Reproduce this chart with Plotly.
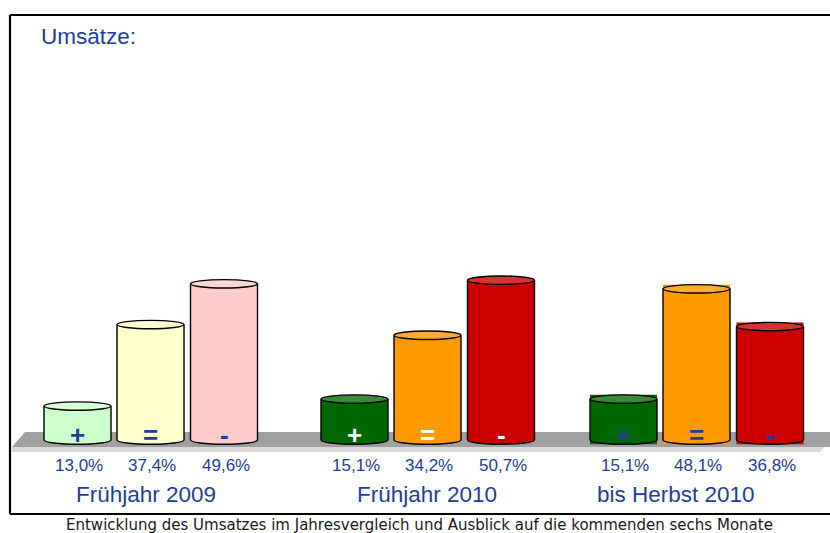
import plotly.graph_objects as go

# ---------------- data ----------------
groups = ["Frühjahr 2009", "Frühjahr 2010", "bis Herbst 2010"]
series = ["+", "=", "-"]
values_2009 = [13.0, 37.4, 49.6]
values_2010 = [15.1, 34.2, 50.7]
values_herbst = [15.1, 48.1, 36.8]
value_labels_2009 = ["13,0%", "37,4%", "49,6%"]
value_labels_2010 = ["15,1%", "34,2%", "50,7%"]
value_labels_herbst = ["15,1%", "48,1%", "36,8%"]
title_text = "Umsätze:"
caption_text = "Entwicklung des Umsatzes im Jahresvergleich und Ausblick auf die kommenden sechs Monate"

all_values = [values_2009, values_2010, values_herbst]
all_labels = [value_labels_2009, value_labels_2010, value_labels_herbst]

# ---------------- styling / layout ----------------
W, H = 830, 533
PX_PER_UNIT = 3.34
ZERO_PX = 449.5
y_range = [(ZERO_PX - H) / PX_PER_UNIT, ZERO_PX / PX_PER_UNIT]
floor_v = (ZERO_PX - 440) / PX_PER_UNIT
ry = 4.2 / PX_PER_UNIT
bar_w = 67
rx = bar_w / 2

group_centers = [150.5, 427.5, 696.5]
label_centers = [146, 427, 676]
offsets = [-73, 0, 73.5]

body_colors = [
    ["#CCFFCC", "#FFFFCC", "#FFCCCC"],
    ["#006600", "#FF9900", "#CC0000"],
    ["#006600", "#FF9900", "#CC0000"],
]
top_colors = [
    ["#D8FFD8", "#FFFFD6", "#FFD6D6"],
    ["#3A8A3A", "#FFAA33", "#D63333"],
    ["#3A8A3A", "#FFAA33", "#D63333"],
]
symbol_colors = ["#1F3D99", "white", "#1F3D99"]
square_back = [False, False, True]
BLUE = "#1F3D99"


def py2paper(py):
    return 1 - py / H


fig = go.Figure()
shapes = []
annotations = []

# floor (drawn below the traces)
shapes.append(dict(type="path", xref="x", yref="paper", layer="below",
                   path=f"M 25,{py2paper(432)} L 832,{py2paper(432)} L 832,{py2paper(447)} L 12,{py2paper(447)} Z",
                   fillcolor="#A0A0A0", line=dict(width=0)))
shapes.append(dict(type="path", xref="x", yref="paper", layer="below",
                   path=f"M 12,{py2paper(447)} L 824,{py2paper(447)} L 820,{py2paper(452)} L 12,{py2paper(452)} Z",
                   fillcolor="#D9D9D9", line=dict(width=0)))

K = 0.5523
for g, vals in enumerate(all_values):
    xs = [group_centers[g] + o for o in offsets]
    if square_back[g]:
        bases = [floor_v - ry] * 3
        lengths = [v + ry - (floor_v - ry) for v in vals]
    else:
        bases = [floor_v] * 3
        lengths = [v - floor_v for v in vals]
    fig.add_trace(go.Bar(
        x=xs, y=lengths, base=bases, width=[bar_w] * 3,
        marker=dict(color=body_colors[g], line=dict(width=0)),
        name=groups[g], showlegend=False, hoverinfo="skip"))
    for i, v in enumerate(vals):
        cx = xs[i]
        x0, x1 = cx - rx, cx + rx
        b = floor_v
        arc = (f"C {x0},{b - ry * K} {cx - rx * K},{b - ry} {cx},{b - ry} "
               f"C {cx + rx * K},{b - ry} {x1},{b - ry * K} {x1},{b}")
        # lower half of bottom ellipse (fill)
        shapes.append(dict(type="path", xref="x", yref="y", layer="above",
                           path=f"M {x0},{b} {arc} Z",
                           fillcolor=body_colors[g][i], line=dict(width=0)))
        # outline: sides and bottom arc
        shapes.append(dict(type="path", xref="x", yref="y", layer="above",
                           path=f"M {x0},{v} L {x0},{b} {arc} L {x1},{v}",
                           fillcolor="rgba(0,0,0,0)", line=dict(color="black", width=1.4)))
        # top ellipse
        shapes.append(dict(type="circle", xref="x", yref="y", layer="above",
                           x0=x0, x1=x1, y0=v - ry, y1=v + ry,
                           fillcolor=top_colors[g][i], line=dict(color="black", width=1.4)))
        # symbol inside bar
        annotations.append(dict(x=cx, y=py2paper(435), xref="x", yref="paper",
                                text=f"<b>{series[i]}</b>", showarrow=False,
                                font=dict(family="Liberation Sans", size=26, color=symbol_colors[g]),
                                xanchor="center", yanchor="middle"))
        # value label
        annotations.append(dict(x=cx + 1.5, y=py2paper(465), xref="x", yref="paper",
                                text=all_labels[g][i], showarrow=False,
                                font=dict(family="Liberation Sans", size=17, color=BLUE),
                                xanchor="center", yanchor="middle"))
    annotations.append(dict(x=label_centers[g], y=py2paper(494), xref="x", yref="paper",
                            text=groups[g], showarrow=False,
                            font=dict(family="Liberation Sans", size=22.5, color=BLUE),
                            xanchor="center", yanchor="middle"))

annotations.append(dict(x=39, y=py2paper(36), xref="x", yref="paper", text=title_text,
                        showarrow=False, xanchor="left", yanchor="middle",
                        font=dict(family="Liberation Sans", size=22.5, color=BLUE)))
annotations.append(dict(x=419, y=py2paper(525), xref="x", yref="paper", text=caption_text,
                        showarrow=False, xanchor="center", yanchor="middle",
                        font=dict(family="DejaVu Sans", size=15, color="#1a1a1a")))

# frame (top, left, bottom)
for (x0, y0, x1, y1) in [(10, 15, 832, 15), (10, 15, 10, 514), (10, 514, 832, 514)]:
    shapes.append(dict(type="line", xref="x", yref="paper", layer="above",
                       x0=x0, x1=x1, y0=py2paper(y0), y1=py2paper(y1),
                       line=dict(color="black", width=2.2)))

fig.update_layout(
    width=W, height=H,
    margin=dict(l=0, r=0, t=0, b=0),
    paper_bgcolor="white", plot_bgcolor="white",
    xaxis=dict(range=[0, W], visible=False, fixedrange=True),
    yaxis=dict(range=y_range, visible=False, fixedrange=True),
    barmode="overlay",
    shapes=shapes,
    annotations=annotations,
    showlegend=False,
)

fig.write_html("out.html", config={"displayModeBar": False},
               post_script="document.body.style.margin='0';document.body.style.padding='0';"
                           "document.body.style.overflow='hidden';")
